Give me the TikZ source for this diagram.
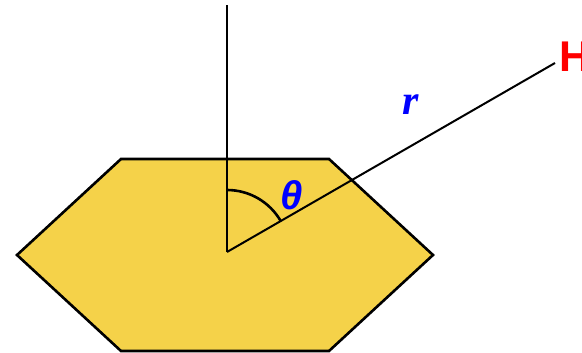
\documentclass[tikz,border=0pt]{standalone}
\usepackage{fontspec}
\usetikzlibrary{calc}
\newfontfamily\hfont{Liberation Sans}
\newfontfamily\rfont{Liberation Serif}
\definecolor{hexfill}{RGB}{245,210,73}
\definecolor{lblblue}{RGB}{0,0,255}
\definecolor{lblred}{RGB}{255,0,0}
\begin{document}
\begin{tikzpicture}[x=1pt,y=-1pt,
  hexstyle/.style={draw=black,line width=2.6pt,fill=hexfill,line join=miter},
  axisline/.style={draw=black,line width=2.6pt},
  bondline/.style={draw=black,line width=2pt},
  anglearc/.style={draw=black,line width=2.6pt},
  lbl/.style={inner sep=0pt,anchor=base}]
\useasboundingbox (0,0) rectangle (582,353);
\coordinate (A) at (17,255);
\coordinate (B) at (121,159);
\coordinate (C) at (329,159);
\coordinate (D) at (433,255);
\coordinate (E) at (329,351);
\coordinate (F) at (121,351);
\path[hexstyle] (A) -- (B) -- (C) -- (D) -- (E) -- (F) -- cycle;
\coordinate (O) at (227,252);
\coordinate (T) at (227,5);
\coordinate (Hend) at (555,63);
\coordinate (arcstart) at ($(O)+(0,-62)$);
\draw[axisline] (O) -- (T);
\draw[bondline] (O) -- (Hend);
\draw[anglearc] (arcstart) arc[start angle=-90,end angle=-30,radius=62];
\node[lbl,anchor=base west,text=lblred,font=\hfont\bfseries\fontsize{43}{43}\selectfont] (H) at (559,72) {H};
\node[lbl,text=lblblue,font=\hfont\bfseries\itshape\fontsize{40}{40}\selectfont] (theta) at (292,210) {θ};
\node[lbl,text=lblblue,font=\rfont\bfseries\itshape\fontsize{42}{42}\selectfont] (r) at (411,115) {r};
\end{tikzpicture}
\end{document}
